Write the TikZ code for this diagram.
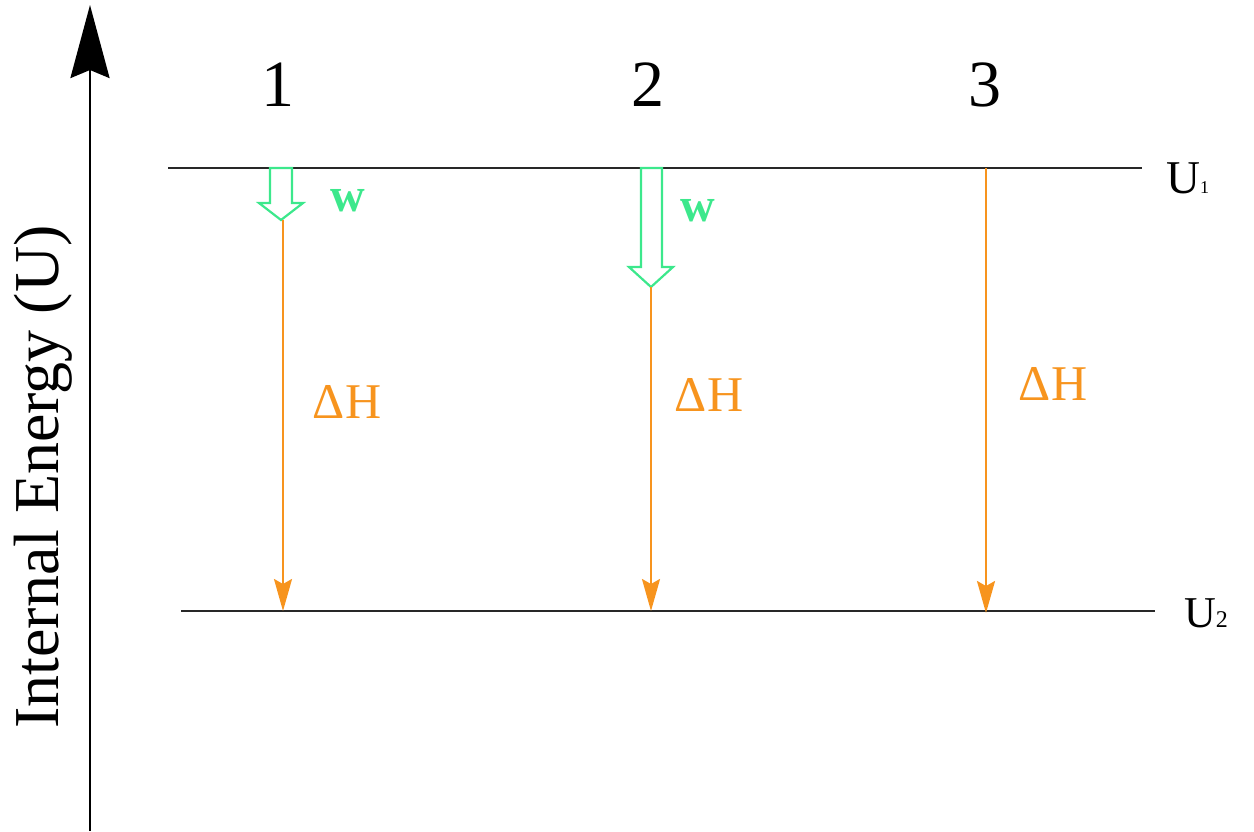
\documentclass[tikz,border=0pt]{standalone}
\usepackage{fontspec}
\setmainfont{Liberation Serif}
\usetikzlibrary{arrows.meta}
\definecolor{eorange}{RGB}{247,148,30}
\definecolor{wgreen}{RGB}{60,232,140}
\definecolor{lvl}{RGB}{40,40,40}
\begin{document}
\begin{tikzpicture}[x=1pt,y=-1pt,
  level/.style={draw=lvl,line width=2.4pt},
  dh/.style={draw=eorange,line width=2.2pt,-{Stealth[length=32pt,width=18pt,inset=5pt]}},
  hollow/.style={draw=wgreen,line width=2.2pt,fill=white,line join=miter},
  num/.style={inner sep=0pt,font=\fontsize{66}{66}\selectfont},
  dhl/.style={inner sep=0pt,text=eorange,font=\fontsize{50}{50}\selectfont},
  wl/.style={inner sep=0pt,text=wgreen,font=\fontsize{48}{48}\selectfont\bfseries}]
\useasboundingbox (0,0) rectangle (1254,831);
% axis
\coordinate (ax0) at (90,831);
\coordinate (ax1) at (90,5);
\draw[line width=2.6pt,-{Stealth[length=73pt,width=39pt,inset=8pt]}] (ax0) -- (ax1);
\node[rotate=90,anchor=base,inner sep=0pt,font=\fontsize{64}{64}\selectfont] (ylab) at (58,477) {Internal Energy (U)};
% levels
\coordinate (u1a) at (168,168);
\coordinate (u1b) at (1142,168);
\coordinate (u2a) at (181,611);
\coordinate (u2b) at (1155,611);
\draw[level] (u1a) -- (u1b);
\draw[level] (u2a) -- (u2b);
\node[anchor=base west,inner sep=0pt] (U1) at (1166,193) {{\fontsize{47}{47}\selectfont U}{\fontsize{18}{18}\selectfont 1}};
\node[anchor=base west,inner sep=0pt] (U2) at (1184,627) {{\fontsize{44}{44}\selectfont U}{\fontsize{24}{24}\selectfont 2}};
% column numbers
\node[num] (n1) at (278,85) {1};
\node[num] (n2) at (648,85) {2};
\node[num] (n3) at (985,85) {3};
% hollow arrows (work)
\draw[hollow] (270,168) -- (292,168) -- (292,203) -- (303,203) -- (281,220) -- (259,203) -- (270,203) -- cycle;
\draw[hollow] (641,168) -- (662,168) -- (662,267) -- (673,267) -- (651,287) -- (629,267) -- (641,267) -- cycle;
\coordinate (w1tip) at (283,220);
\coordinate (w2tip) at (651,287);
\coordinate (d1) at (283,611);
\coordinate (d2) at (651,611);
\coordinate (s3) at (986,168);
\coordinate (d3) at (986,613);
% enthalpy arrows
\draw[dh] (w1tip) -- (d1);
\draw[dh] (w2tip) -- (d2);
\draw[dh] (s3) -- (d3);
% labels
\node[dhl] (h1) at (347,402) {ΔH};
\node[dhl] (h2) at (709,395) {ΔH};
\node[dhl] (h3) at (1053,384) {ΔH};
\node[wl] (w1) at (348,201) {w};
\node[wl] (w2) at (698,211) {w};
\end{tikzpicture}
\end{document}
